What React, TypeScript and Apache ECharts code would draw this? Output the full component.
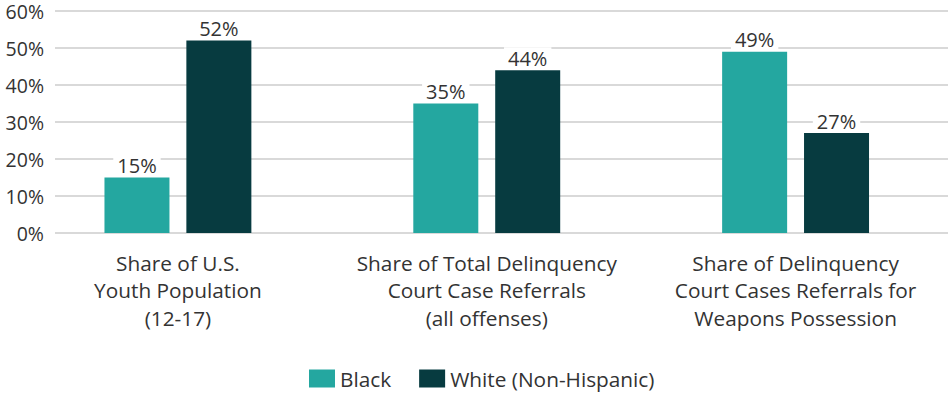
import React, { useEffect, useRef } from "react";
import * as echarts from "echarts";

const categories = [
  "Share of U.S.\nYouth Population\n(12-17)",
  "Share of Total Delinquency\nCourt Case Referrals\n(all offenses)",
  "Share of Delinquency\nCourt Cases Referrals for\nWeapons Possession",
];
const blackValues = [15, 35, 49];
const whiteValues = [52, 44, 27];
const seriesNames = ["Black", "White (Non-Hispanic)"];
const colors = ["#24a7a0", "#073b40"];

const FONT = "Open Sans";
const FS = 19.5;
const FS_X = 20.8;

export default function App() {
  const ref = useRef<HTMLDivElement>(null);
  useEffect(() => {
    if (!ref.current) return;
    const chart = echarts.init(ref.current, null, { renderer: "svg" });
    const labelStyle = {
      show: true,
      position: "top" as const,
      distance: 2,
      formatter: "{c}%",
      color: "#333333",
      fontSize: 20,
      fontFamily: FONT,
      backgroundColor: "#ffffff",
      padding: [1, 4, 0, 4],
    };
    chart.setOption({
      animation: false,
      textStyle: { fontFamily: FONT },
      legend: {
        data: seriesNames,
        left: 304,
        top: 363,
        itemWidth: 26,
        itemHeight: 18,
        itemGap: 28,
        icon: "rect",
        textStyle: { fontSize: FS_X, color: "#333333", fontFamily: FONT },
      },
      grid: [
        { left: 23.5, width: 928, top: 11, height: 222 },
        { left: 55, right: 2, top: 11, height: 222 },
      ],
      xAxis: [
        {
          type: "category",
          gridIndex: 0,
          data: categories,
          axisLine: { show: false },
          axisTick: { show: false },
          axisLabel: {
            margin: 16,
            fontSize: FS_X,
            lineHeight: 27.5,
            color: "#333333",
            fontFamily: FONT,
            interval: 0,
          },
        },
        {
          type: "category",
          gridIndex: 1,
          data: ["a"],
          show: false,
        },
      ],
      yAxis: [
        {
          type: "value",
          gridIndex: 0,
          min: 0,
          max: 60,
          interval: 10,
          show: false,
          splitLine: { show: false },
        },
        {
          type: "value",
          gridIndex: 1,
          min: 0,
          max: 60,
          interval: 10,
          axisLine: { show: false },
          axisTick: { show: false },
          axisLabel: {
            formatter: "{value}%",
            fontSize: FS,
            lineHeight: 16,
            color: "#333333",
            fontFamily: FONT,
            margin: 11,
          },
          splitLine: { lineStyle: { color: "#cccccc", width: 1.5 } },
        },
      ],
      series: [
        {
          name: seriesNames[0],
          type: "bar",
          xAxisIndex: 0,
          yAxisIndex: 0,
          data: blackValues,
          barWidth: 65,
          barGap: "26%",
          itemStyle: { color: colors[0] },
          label: labelStyle,
          z: 3,
        },
        {
          name: seriesNames[1],
          type: "bar",
          xAxisIndex: 0,
          yAxisIndex: 0,
          data: whiteValues,
          barWidth: 65,
          barGap: "26%",
          itemStyle: { color: colors[1] },
          label: labelStyle,
          z: 3,
        },
      ],
    });
    return () => chart.dispose();
  }, []);
  return (
    <div
      ref={ref}
      style={{ position: "absolute", left: 0, top: 0, width: 950, height: 394 }}
    />
  );
}
